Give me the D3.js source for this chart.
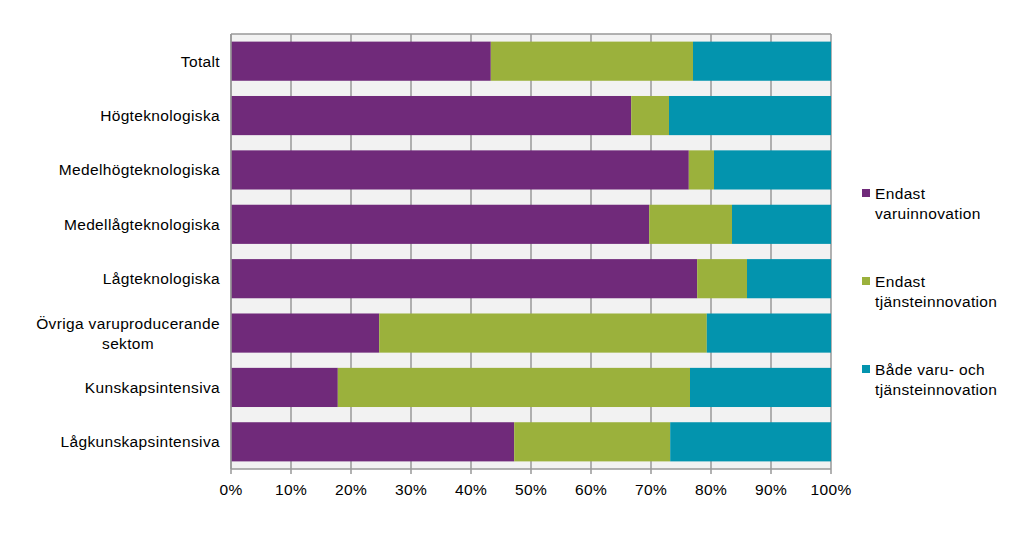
<!DOCTYPE html>
<html><head><meta charset="utf-8">
<script src="https://cdn.jsdelivr.net/npm/d3@7"></script>
<style>body{margin:0;background:#fff;} text{font-family:"Liberation Sans",Arial,sans-serif;fill:#000;letter-spacing:0.35px;}</style>
</head><body>
<svg id="c" width="1022" height="558"></svg>
<script>
const categories = ["Totalt","Högteknologiska","Medelhögteknologiska","Medellågteknologiska","Lågteknologiska","Övriga varuproducerande sektom","Kunskapsintensiva","Lågkunskapsintensiva"];
const categoryLines = [["Totalt"],["Högteknologiska"],["Medelhögteknologiska"],["Medellågteknologiska"],["Lågteknologiska"],["Övriga varuproducerande","sektom"],["Kunskapsintensiva"],["Lågkunskapsintensiva"]];
const seriesNames = ["Endast varuinnovation","Endast tjänsteinnovation","Både varu- och tjänsteinnovation"];
const seriesLines = [["Endast","varuinnovation"],["Endast","tjänsteinnovation"],["Både varu- och","tjänsteinnovation"]];
const endastVaru = [43.3,66.7,76.3,69.7,77.7,24.7,17.8,47.2];
const endastTjanst = [33.7,6.3,4.2,13.8,8.3,54.6,58.7,26.0];
const bada = [23.0,27.0,19.5,16.5,14.0,20.7,23.5,26.8];
const colors = ["#702a7a","#9bb13c","#0394ae"];
const xTicks = [0,10,20,30,40,50,60,70,80,90,100];

const svg = d3.select("#c");
const m = {l:231, r:831, t:34, b:469};
const x = d3.scaleLinear().domain([0,100]).range([m.l,m.r]);
const y = d3.scaleBand().domain(categories).range([m.t,m.b]).paddingInner(0.28).paddingOuter(0.14);

svg.append("rect").attr("x",m.l).attr("y",m.t).attr("width",m.r-m.l).attr("height",m.b-m.t).attr("fill","#f2f2f2");
const gc = "#999";
svg.append("g").selectAll("line").data(xTicks).join("line")
  .attr("x1",d=>x(d)).attr("x2",d=>x(d)).attr("y1",m.t).attr("y2",m.b+5)
  .attr("stroke",gc).attr("stroke-width",1.5);
svg.append("line").attr("x1",m.l).attr("x2",m.r).attr("y1",m.t).attr("y2",m.t).attr("stroke",gc).attr("stroke-width",1.5);

const rows = categories.map((c,i)=>({c, v:[endastVaru[i],endastTjanst[i],bada[i]]}));
const stackData = rows.map(r=>{const o={c:r.c}; r.v.forEach((v,j)=>o["s"+j]=v); return o;});
const stack = d3.stack().keys(["s0","s1","s2"])(stackData);
stack.forEach((s,j)=>{
  svg.append("g").selectAll("rect").data(s).join("rect")
    .attr("x",d=>x(d[0])).attr("width",d=>x(Math.min(100,d[1]))-x(d[0]))
    .attr("y",d=>y(d.data.c)).attr("height",y.bandwidth()).attr("fill",colors[j]);
});

svg.append("line").attr("x1",m.l).attr("x2",m.r).attr("y1",m.b).attr("y2",m.b).attr("stroke",gc).attr("stroke-width",1.5);
svg.append("line").attr("x1",m.l).attr("x2",m.l).attr("y1",m.t).attr("y2",m.b).attr("stroke",gc).attr("stroke-width",1.5);

const fs = 15.5;
svg.append("g").selectAll("text").data(xTicks).join("text")
  .attr("x",d=>x(d)).attr("y",m.b+26).attr("text-anchor","middle").attr("font-size",fs).text(d=>d+"%");

categories.forEach((c,i)=>{
  const lines = categoryLines[i];
  const cy = y(c)+y.bandwidth()/2;
  const lh = 20;
  const g = svg.append("g");
  const t0 = g.append("text").attr("x",220).attr("text-anchor","end").attr("font-size",fs)
    .attr("y",cy - (lines.length-1)*lh/2 + 5.5).text(lines[0]);
  if(lines.length>1){
    const w = t0.node().getComputedTextLength();
    for(let k=1;k<lines.length;k++){
      g.append("text").attr("x",220-w/2).attr("text-anchor","middle").attr("font-size",fs)
        .attr("y",cy - (lines.length-1)*lh/2 + 5.5 + k*lh).text(lines[k]);
    }
  }
});

const legY = [193,281,369];
seriesLines.forEach((ls,i)=>{
  svg.append("rect").attr("x",862).attr("y",legY[i]-4).attr("width",8).attr("height",8).attr("fill",colors[i]);
  ls.forEach((l,k)=>{
    svg.append("text").attr("x",875).attr("y",legY[i]+5.5+k*20).attr("font-size",fs).text(l);
  });
});
</script>
</body></html>
